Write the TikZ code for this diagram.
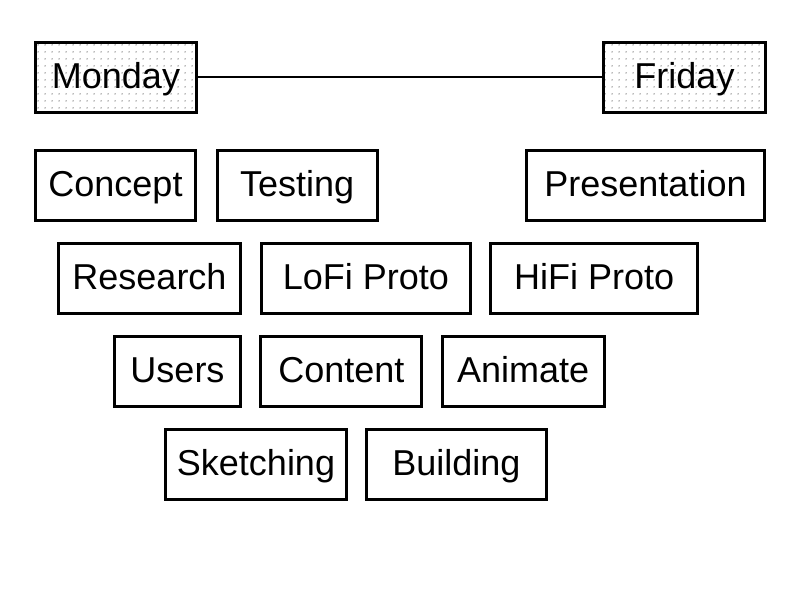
\documentclass[tikz,border=0pt]{standalone}
\usepackage{fontspec}
\setmainfont{Liberation Sans}
\usetikzlibrary{positioning,patterns.meta}

\tikzdeclarepattern{
  name=griddots,
  type=uncolored,
  bounding box={(0,0) and (5.25pt,5.25pt)},
  tile size={(5.25pt,5.25pt)},
  code={\fill (2.6pt,2.6pt) circle (0.6pt);}
}

\begin{document}
\begin{tikzpicture}[x=0.75pt,y=-0.75pt]
	\tikzstyle{block} = [rectangle, draw, line width=2.25pt, text centered, minimum height=52.5pt, inner sep=0pt, text height=20pt, text depth=3.5pt, font=\fontsize{27}{30}\selectfont]
	\tikzstyle{day} = [block, pattern={griddots}, pattern color=black!55]
	\tikzstyle{line} = [draw, line width=1.6pt]

	\useasboundingbox (0,0) rectangle (800,601);

	% week
	\node [day, minimum width=120.75pt] (Monday) at (116,77) {Monday};
	\node [day, minimum width=121.5pt] (Friday) at (684.5,77) {Friday};
	\path [line] (Monday) -- (Friday);

	% first row
	\node [block, minimum width=120pt] (Concept) at (115.5,185.5) {Concept};
	\node [block, minimum width=120pt, right=14pt of Concept] (Testing) {Testing};
	\node [block, minimum width=178.5pt] (Presentation) at (645.5,185.5) {Presentation};

	% second row
	\node [block, minimum width=137pt] (Research) at (149.5,278.5) {Research};
	\node [block, minimum width=157pt, right=13pt of Research] (LoFi) {LoFi Proto};
	\node [block, minimum width=155pt, right=13pt of LoFi] (HiFi) {HiFi Proto};

	% third row
	\node [block, minimum width=94.5pt] (Users) at (177.5,371.5) {Users};
	\node [block, minimum width=120.75pt, right=13pt of Users] (Content) {Content};
	\node [block, minimum width=121.5pt, right=13pt of Content] (Animate) {Animate};

	% fourth row
	\node [block, minimum width=135.75pt] (Sketching) at (256,464.5) {Sketching};
	\node [block, minimum width=135pt, right=12.75pt of Sketching] (Building) {Building};
\end{tikzpicture}
\end{document}
